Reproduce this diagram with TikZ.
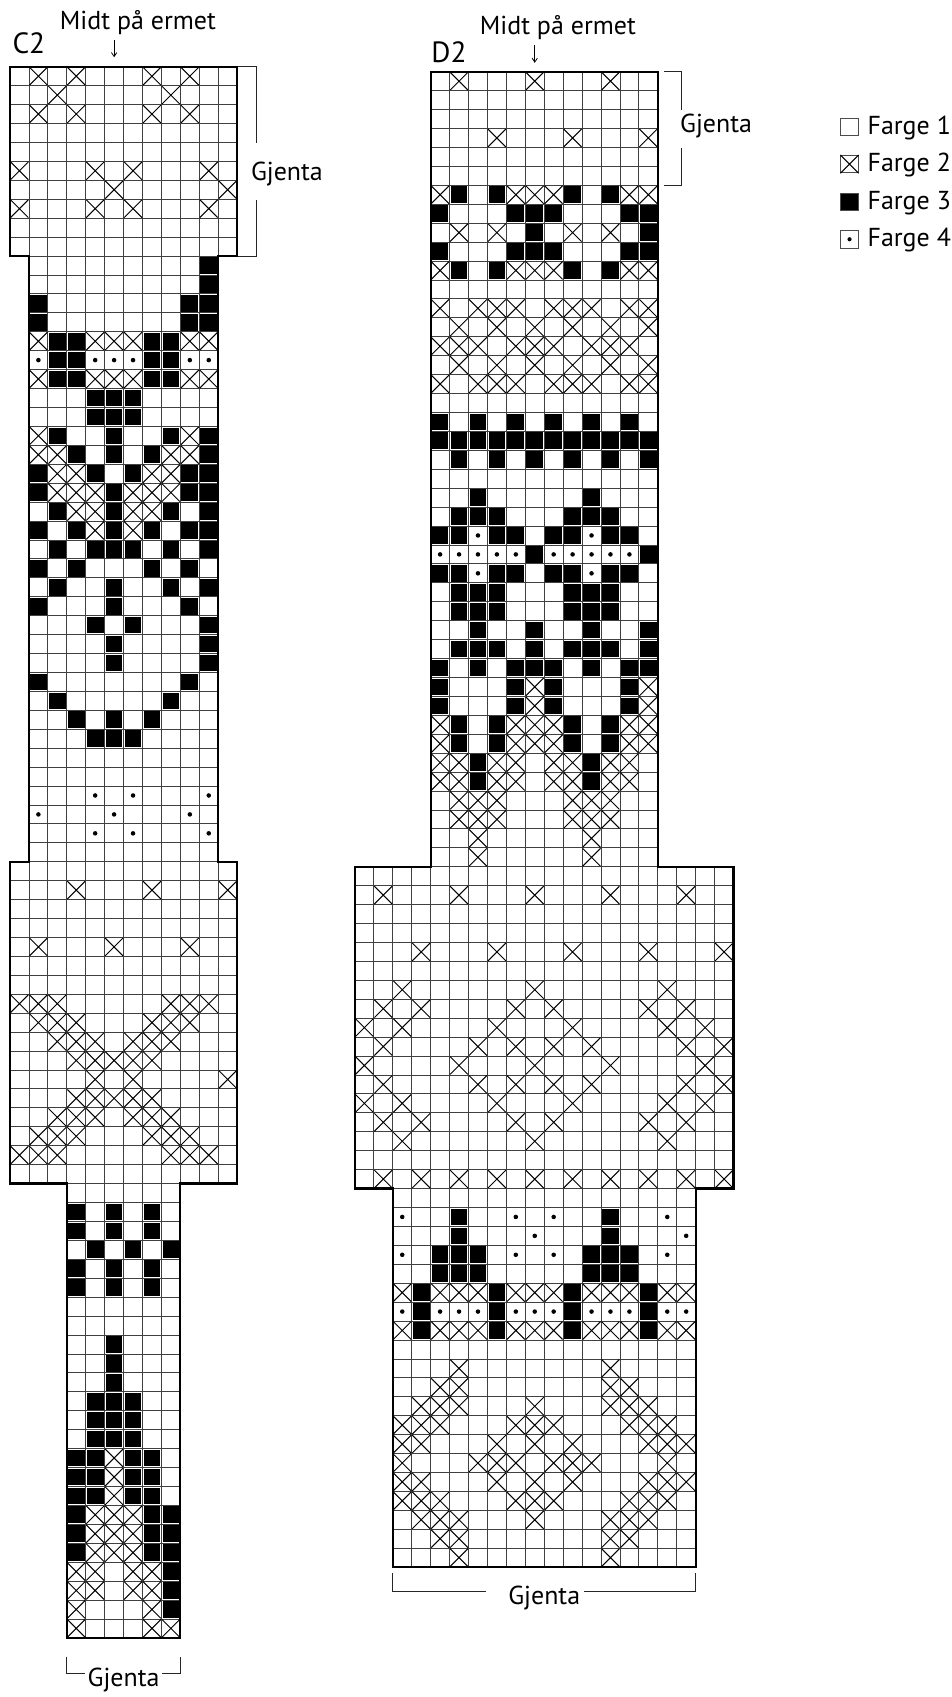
\documentclass[tikz,border=0pt]{standalone}
\usepackage{fontspec}
\setmainfont{PT Sans}
\usepackage{tikz}
\usetikzlibrary{positioning,arrows.meta}
\usepackage{xcolor}

% one block of chart squares
\newcommand{\gridblock}[4]{%
  \foreach \gx in {#1,...,#3} {\draw[gridline] (\gx,#2) -- (\gx,#4);}
  \foreach \gy in {#2,...,#4} {\draw[gridline] (#1,\gy) -- (#3,\gy);}
}
\newcommand{\crosscell}[2]{\draw[crossline] (#1+0.03,#2+0.03) -- (#1+0.97,#2+0.97) (#1+0.97,#2+0.03) -- (#1+0.03,#2+0.97);}
\newcommand{\blackcell}[2]{\fill (#1+0.06,#2+0.06) rectangle (#1+0.94,#2+0.94);}
\newcommand{\dotcell}[2]{\fill (#1+0.5,#2+0.5) circle[radius=0.12];}
\newcommand{\crossrows}[1]{\foreach \r/\cs in {#1} {\foreach \c in \cs {\crosscell{\c}{\r}}}}
\newcommand{\blackrows}[1]{\foreach \r/\cs in {#1} {\foreach \c in \cs {\blackcell{\c}{\r}}}}
\newcommand{\dotrows}[1]{\foreach \r/\cs in {#1} {\foreach \c in \cs {\dotcell{\c}{\r}}}}

\begin{document}
\begin{tikzpicture}[x=0.5cm, y=-0.5cm,
    gridline/.style={black!75, line width=0.6pt},
    crossline/.style={black, line width=0.75pt},
    outline/.style={black, line width=1.6pt, line join=miter},
    bracket/.style={black!85, line width=0.6pt},
    midarrow/.style={black, line width=0.6pt, -{Straight Barb[length=3pt, width=4pt]}},
    lbl/.style={font=\fontsize{19.5}{23}\selectfont, inner sep=0pt},
    titlelbl/.style={font=\fontsize{22}{26}\selectfont, inner sep=0pt},
    legbox/.style={draw=black!70, line width=0.6pt, minimum size=0.46cm, inner sep=0pt}]
    \useasboundingbox (0,0) rectangle (50.29,89.65);

    % C2
    \begin{scope}[shift={(0.528,3.524)}]
        \gridblock{0}{0}{12}{10}
        \gridblock{1}{10}{11}{42}
        \gridblock{0}{42}{12}{59}
        \gridblock{3}{59}{9}{83}

        \crossrows{0/{1,3,7,9}, 1/{2,8}, 2/{1,3,7,9}, 5/{0,4,6,10}, 6/{5,11}, 7/{0,4,6,10},
            14/{1,4,5,6,9,10}, 16/{1,4,5,6,9,10}, 19/{1,9}, 20/{1,2,8,9}, 21/{2,3,7,8},
            22/{2,3,4,6,7,8}, 23/{3,4,6,7}, 24/{4,6},
            43/{3,7,11}, 46/{1,5,9}, 49/{0,1,2,8,9,10}, 50/{1,2,3,7,8,9}, 51/{2,3,4,6,7,8},
            52/{3,4,5,6,7}, 53/{4,6,11}, 54/{3,4,5,6,7}, 55/{2,3,4,6,7,8}, 56/{1,2,3,7,8,9},
            57/{0,1,2,8,9,10},
            73/{5}, 74/{5}, 75/{5}, 76/{4,5,6}, 77/{4,5,6}, 78/{4,5,6}, 79/{3,4,6,7},
            80/{3,4,6,7}, 81/{3,7}, 82/{3,7,8}}
        \blackrows{10/{10}, 11/{10}, 12/{1,9,10}, 13/{1,9,10}, 14/{2,3,7,8}, 15/{2,3,7,8},
            16/{2,3,7,8}, 17/{4,5,6}, 18/{4,5,6}, 19/{2,5,8,10}, 20/{3,5,7,10},
            21/{1,4,6,9,10}, 22/{1,5,9,10}, 23/{2,5,8,10}, 24/{1,3,5,7,9,10},
            25/{2,4,5,6,8,10}, 26/{1,3,7,9}, 27/{2,5,8,10}, 28/{1,5,9}, 29/{4,6,10},
            30/{5,10}, 31/{5,10}, 32/{1,9}, 33/{2,8}, 34/{3,5,7}, 35/{4,5,6},
            60/{3,5,7}, 61/{3,5,7}, 62/{4,6,8}, 63/{3,5,7}, 64/{3,5,7}, 67/{5}, 68/{5},
            69/{5}, 70/{4,5,6}, 71/{4,5,6}, 72/{4,5,6}, 73/{3,4,6,7}, 74/{3,4,6,7},
            75/{3,4,6,7}, 76/{3,7,8}, 77/{3,7,8}, 78/{3,7,8}, 79/{8}, 80/{8}, 81/{8}}
        \dotrows{15/{1,4,5,6,9,10}, 38/{4,6,10}, 39/{1,5,9}, 40/{4,6,10}}

        \draw[outline] (0,0) -- (12,0) -- (12,10) -- (11,10) -- (11,42) -- (12,42)
            -- (12,59) -- (9,59) -- (9,83) -- (3,83) -- (3,59) -- (0,59) -- (0,42)
            -- (1,42) -- (1,10) -- (0,10) -- cycle;

        \node[titlelbl, anchor=base west] (c2name) at (0.12,-0.708) {C2};
        \node[lbl, anchor=base] (c2midt) at (6.76,-1.94) {Midt på ermet};
        \coordinate (c2from) at (5.5,-1.41);
        \coordinate (c2to) at (5.5,-0.5);
        \draw[midarrow] (c2from) -- (c2to);

        \node[lbl, anchor=base] (c2rep) at (14.63,5.985) {Gjenta};
        \draw[bracket] (12.05,0) -- (13,0) -- (13,4.03);
        \draw[bracket] (13,7.04) -- (13,10) -- (12.05,10);

        \node[lbl, anchor=base] (c2repb) at (6,85.58) {Gjenta};
        \draw[bracket] (3,84) -- (3,84.9) -- (3.95,84.9);
        \draw[bracket] (8.05,84.9) -- (9,84.9) -- (9,84);
    \end{scope}

    % D2
    \begin{scope}[shift={(22.75,3.788)}]
        \gridblock{0}{0}{12}{42}
        \gridblock{-4}{42}{16}{59}
        \gridblock{-2}{59}{14}{79}

        \crossrows{0/{1,5,9}, 3/{3,7,11}, 6/{0,4,5,6,10,11}, 8/{1,3,7,9}, 10/{0,4,5,6,10,11},
            12/{0,2,3,4,6,7,8,10,11}, 13/{1,3,5,7,9,11}, 14/{0,1,2,4,5,6,8,9,10},
            15/{1,3,5,7,9,11}, 16/{0,2,3,4,6,7,8,10,11},
            32/{5,11}, 33/{5,11}, 34/{0,4,5,6,10,11}, 35/{0,4,5,6,10,11},
            36/{0,1,3,4,6,7,9,10}, 37/{0,1,3,4,6,7,9,10}, 38/{1,2,3,7,8,9},
            39/{1,2,3,7,8,9}, 40/{2,8}, 41/{2,8},
            43/{-3,1,5,9,13}, 46/{-1,3,7,11,15}, 48/{-2,5,12}, 49/{-3,-1,4,6,11,13},
            50/{-4,-2,3,7,12,14}, 51/{-3,2,4,6,8,13,15}, 52/{-4,1,5,9,14},
            53/{-3,2,4,6,8,13,15}, 54/{-4,-2,3,7,12,14}, 55/{-3,-1,4,6,11,13},
            56/{-2,5,12}, 58/{-3,-1,1,3,5,7,9,11,13,15},
            64/{-2,0,1,2,4,5,6,8,9,10,12,13}, 66/{-2,0,1,2,4,5,6,8,9,10,12,13},
            68/{1,9}, 69/{0,1,9,10}, 70/{-1,0,1,5,9,10,11}, 71/{-2,-1,0,4,5,6,10,11,12},
            72/{-2,-1,3,5,7,11,12,13}, 73/{-2,2,3,4,6,7,8,12}, 74/{-2,-1,3,5,7,11,12,13},
            75/{-2,-1,0,4,5,6,10,11,12}, 76/{-1,0,1,5,9,10,11}, 77/{0,1,9,10}, 78/{1,9}}
        \blackrows{6/{1,3,7,9}, 7/{0,4,5,6,10,11}, 8/{5,11}, 9/{0,4,5,6,10,11}, 10/{1,3,7,9},
            18/{0,2,4,6,8,10}, 19/{0,1,2,3,4,5,6,7,8,9,10,11}, 20/{1,3,5,7,9,11},
            22/{2,8}, 23/{1,2,3,7,8,9}, 24/{0,1,3,4,6,7,9,10}, 25/{5,11},
            26/{0,1,3,4,6,7,9,10}, 27/{1,2,3,7,8,9}, 28/{1,2,3,7,8,9}, 29/{2,5,8,11},
            30/{1,2,3,5,7,8,9,11}, 31/{0,2,4,5,6,8,10,11}, 32/{0,4,6,10}, 33/{0,4,6,10},
            34/{1,3,7,9}, 35/{1,3,7,9}, 36/{2,8}, 37/{2,8},
            60/{1,9}, 61/{1,9}, 62/{0,1,2,8,9,10}, 63/{0,1,2,8,9,10}, 64/{-1,3,7,11},
            65/{-1,3,7,11}, 66/{-1,3,7,11}}
        \dotrows{24/{2,8}, 25/{0,1,2,3,4,6,7,8,9,10}, 26/{2,8}, 60/{-2,4,6,12}, 61/{5,13},
            62/{-2,4,6,12}, 65/{-2,0,1,2,4,5,6,8,9,10,12,13}}

        \draw[outline] (0,0) -- (12,0) -- (12,42) -- (16,42) -- (16,59) -- (14,59)
            -- (14,79) -- (-2,79) -- (-2,59) -- (-4,59) -- (-4,42) -- (0,42) -- cycle;

        \node[titlelbl, anchor=base west] (d2name) at (0.03,-0.50) {D2};
        \node[lbl, anchor=base] (d2midt) at (6.72,-1.99) {Midt på ermet};
        \coordinate (d2from) at (5.5,-1.41);
        \coordinate (d2to) at (5.5,-0.47);
        \draw[midarrow] (d2from) -- (d2to);

        \node[lbl, anchor=base] (d2rep) at (15.08,3.22) {Gjenta};
        \draw[bracket] (12.33,0) -- (13.25,0) -- (13.25,2.02);
        \draw[bracket] (13.25,4.03) -- (13.25,6) -- (12.33,6);

        \node[lbl, anchor=base] (d2repb) at (6,80.97) {Gjenta};
        \draw[bracket] (-2,79.3) -- (-2,80.27) -- (2.9,80.27);
        \draw[bracket] (8.1,80.27) -- (14,80.27) -- (14,79.3);
    \end{scope}

    % legend
    \node[legbox] (farge1) at (44.88,6.69) {};
    \node[legbox] (farge2) at (44.88,8.67) {};
    \node[legbox, fill=black] (farge3) at (44.88,10.66) {};
    \node[legbox] (farge4) at (44.88,12.64) {};
    \draw[crossline] (farge2.north west) -- (farge2.south east) (farge2.north east) -- (farge2.south west);
    \fill (farge4.center) circle[radius=0.11];
    \node[lbl, anchor=base west] (farge1t) at (45.82,7.08) {Farge 1};
    \node[lbl, anchor=base west] (farge2t) at (45.82,9.06) {Farge 2};
    \node[lbl, anchor=base west] (farge3t) at (45.82,11.05) {Farge 3};
    \node[lbl, anchor=base west] (farge4t) at (45.82,13.03) {Farge 4};
\end{tikzpicture}
\end{document}
